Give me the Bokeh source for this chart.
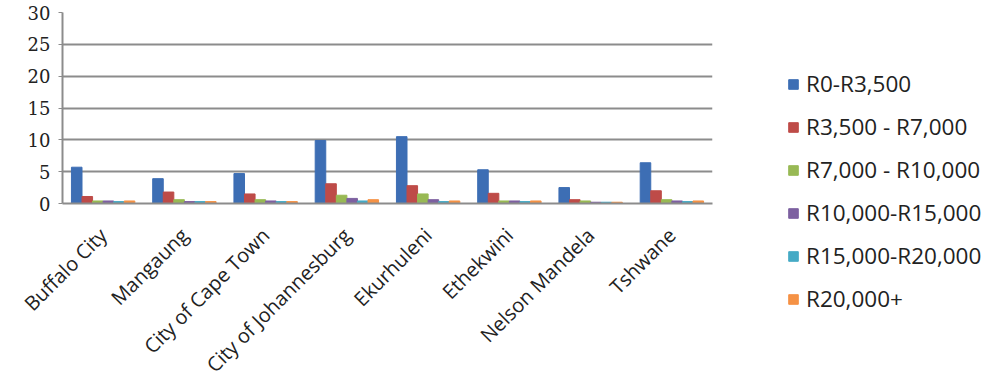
import math
from bokeh.plotting import figure
from bokeh.models import ColumnDataSource, Legend, LegendItem, FactorRange, FixedTicker
from bokeh.transform import dodge
from bokeh.embed import file_html
from bokeh.resources import INLINE

cities = ["Buffalo City", "Mangaung", "City of Cape Town", "City of Johannesburg",
          "Ekurhuleni", "Ethekwini", "Nelson Mandela", "Tshwane"]
series_names = ["R0-R3,500", "R3,500 - R7,000", "R7,000 - R10,000",
                "R10,000-R15,000", "R15,000-R20,000", "R20,000+"]
r0_3500 = [5.7, 3.9, 4.7, 9.9, 10.5, 5.3, 2.5, 6.4]
r3500_7000 = [1.1, 1.8, 1.5, 3.1, 2.8, 1.6, 0.6, 2.0]
r7000_10000 = [0.4, 0.6, 0.6, 1.3, 1.5, 0.4, 0.4, 0.6]
r10000_15000 = [0.4, 0.3, 0.4, 0.8, 0.6, 0.4, 0.2, 0.4]
r15000_20000 = [0.3, 0.3, 0.3, 0.4, 0.3, 0.3, 0.2, 0.3]
r20000_plus = [0.4, 0.3, 0.3, 0.6, 0.4, 0.4, 0.2, 0.4]
y_ticks = [0, 5, 10, 15, 20, 25, 30]

colors = ["#3D6EB4", "#BE4B48", "#98B954", "#7D60A0", "#46AAC5", "#F59245"]
series = [r0_3500, r3500_7000, r7000_10000, r10000_15000, r15000_20000, r20000_plus]
keys = ["s0", "s1", "s2", "s3", "s4", "s5"]

data = {"city": cities}
for k, s in zip(keys, series):
    data[k] = s
src = ColumnDataSource(data)

p = figure(frame_width=650, frame_height=191, x_range=FactorRange(*cities), y_range=(0, 30),
           output_backend="svg", toolbar_location=None,
           min_border_left=62, min_border_right=0, min_border_top=12, min_border_bottom=179)
p.outline_line_color = None
p.background_fill_color = "white"

bw = 0.13
items = []
for i, (k, c, name) in enumerate(zip(keys, colors, series_names)):
    off = (i - 2.5) * bw
    r = p.vbar(x=dodge("city", off, range=p.x_range), top=k, width=bw, source=src,
               fill_color=c, line_color=c)
    items.append(LegendItem(label=name, renderers=[r]))

p.yaxis.ticker = FixedTicker(ticks=y_ticks)
p.yaxis.major_label_text_font = "DejaVu Serif"
p.yaxis.major_label_text_font_size = "18px"
p.yaxis.major_label_text_color = "#222222"
p.yaxis.axis_line_color = "#8C8C8C"
p.yaxis.axis_line_width = 2
p.yaxis.major_tick_line_color = "#8C8C8C"
p.yaxis.major_tick_in = 0
p.yaxis.major_tick_out = 4
p.yaxis.major_label_standoff = 8
p.yaxis.minor_tick_line_color = None

p.xaxis.major_label_orientation = math.pi / 4
p.xaxis.major_label_text_font = "Open Sans"
p.xaxis.major_label_text_font_size = "20px"
p.xaxis.major_label_text_color = "#222222"
p.xaxis.axis_line_color = "#8C8C8C"
p.xaxis.axis_line_width = 2
p.xaxis.major_tick_line_color = None
p.xaxis.major_label_standoff = 22

p.xgrid.grid_line_color = None
p.ygrid.grid_line_color = "#8C8C8C"
p.ygrid.grid_line_width = 2
p.ygrid.ticker = FixedTicker(ticks=y_ticks)

legend = Legend(items=items, location=(75, -111), orientation="vertical",
                glyph_width=12, glyph_height=12, label_text_font="Open Sans",
                label_text_font_size="22.5px", label_text_color="#222222",
                spacing=12, label_height=26, border_line_color=None,
                background_fill_alpha=0, padding=0, margin=0, label_standoff=7)
p.add_layout(legend, "right")

open("out.html", "w").write(file_html(p, INLINE))
